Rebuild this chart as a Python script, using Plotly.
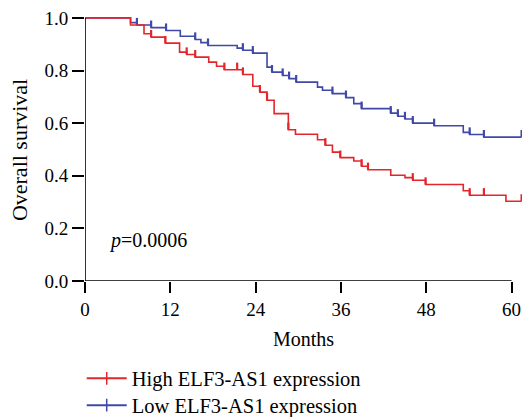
import plotly.graph_objects as go
import numpy as np

# ---- data ----
high_times = [0, 6.4, 8.3, 9.3, 11.3, 13.3, 14.3, 15.5, 17.4, 18.5, 19.6, 22.2, 23.6, 24.6,
              25.6, 26.6, 28.6, 29.6, 32.7, 33.8, 34.8, 35.9, 37.8, 38.9, 39.8, 43.0, 45.0,
              46.1, 47.9, 53.2, 54.1, 59.2, 61.4]
high_surv = [1.0, 0.973, 0.940, 0.927, 0.904, 0.870, 0.861, 0.851, 0.832, 0.816, 0.803, 0.785,
             0.740, 0.718, 0.687, 0.636, 0.575, 0.558, 0.537, 0.516, 0.490, 0.469, 0.456,
             0.436, 0.423, 0.402, 0.393, 0.383, 0.367, 0.343, 0.326, 0.303, 0.303]
high_censor = [9.3, 11.3, 14.3, 15.5, 19.6, 21.4, 22.2, 24.6, 25.6, 28.6, 33.8, 35.9, 38.9,
               39.8, 46.1, 47.9, 54.1, 56.1, 61.4]

low_times = [0, 6.4, 7.3, 9.3, 11.4, 13.4, 15.5, 16.3, 17.3, 21.4, 22.2, 23.6, 25.6, 26.3,
             27.8, 28.7, 29.7, 32.7, 33.4, 34.8, 36.7, 37.8, 38.9, 43.0, 44.0, 45.0, 46.1,
             49.1, 53.2, 54.1, 56.1, 61.4]
low_surv = [1.0, 0.982, 0.973, 0.963, 0.952, 0.930, 0.918, 0.906, 0.895, 0.885, 0.877, 0.866,
            0.813, 0.794, 0.781, 0.769, 0.756, 0.737, 0.725, 0.712, 0.697, 0.674, 0.655,
            0.638, 0.626, 0.616, 0.600, 0.590, 0.565, 0.557, 0.547, 0.547]
low_censor = [7.3, 9.3, 11.4, 15.5, 17.3, 22.2, 23.6, 26.3, 27.8, 28.7, 29.7, 34.8, 36.7,
              38.9, 43.0, 44.0, 45.0, 46.1, 49.1, 54.1, 56.1, 61.4]

x_ticks = [0, 12, 24, 36, 48, 60]
y_ticks = [0.0, 0.2, 0.4, 0.6, 0.8, 1.0]
y_tick_labels = ["0.0", "0.2", "0.4", "0.6", "0.8", "1.0"]

RED = "#e3262b"
BLUE = "#4048a8"
FONT = "Liberation Serif"


def surv_at(times, surv, t):
    idx = np.searchsorted(np.array(times), t, side="right") - 1
    return surv[max(idx, 0)]


def censor_segments(times, surv, ctimes, h=0.027):
    xs, ys = [], []
    for t in ctimes:
        s = surv_at(times, surv, t)
        xs += [t, t, None]
        ys += [s, s + h, None]
    return xs, ys


fig = go.Figure()
# low group drawn first so the high (red) curve sits on top where they overlap
for name, times, surv, cens, col, leg in [
    ("Low ELF3-AS1 expression", low_times, low_surv, low_censor, BLUE, "legend2"),
    ("High ELF3-AS1 expression", high_times, high_surv, high_censor, RED, "legend"),
]:
    fig.add_trace(go.Scatter(x=times, y=surv, mode="lines", line=dict(color=col, width=1.6, shape="hv"),
                             showlegend=False, hoverinfo="skip"))
    cx, cy = censor_segments(times, surv, cens)
    fig.add_trace(go.Scatter(x=cx, y=cy, mode="lines", line=dict(color=col, width=2.2),
                             showlegend=False, hoverinfo="skip"))
    fig.add_trace(go.Scatter(x=[None], y=[None], mode="lines+markers", name=name, legend=leg,
                             line=dict(color=col, width=2),
                             marker=dict(symbol="line-ns", size=9, line=dict(color=col, width=1.5))))

# axis lines
fig.add_shape(type="line", x0=0, x1=60, y0=0, y1=0, xref="x", yref="y", line=dict(color="black", width=1.6))
fig.add_shape(type="line", x0=0, x1=0, y0=0, y1=1.0, xref="x", yref="y", line=dict(color="black", width=1.6))

fig.add_annotation(x=3.1, y=0.155, xref="x", yref="y", xanchor="left", yanchor="middle",
                   text="<i>p</i>=0.0006", showarrow=False, font=dict(family=FONT, size=20, color="black"))
fig.add_annotation(x=0.498, y=-0.215, xref="paper", yref="paper", xanchor="center", yanchor="middle",
                   text="Months", showarrow=False, font=dict(family=FONT, size=20, color="black"))
fig.add_annotation(x=-0.149, y=0.482, xref="paper", yref="paper", xanchor="center", yanchor="middle",
                   text="Overall survival", textangle=-90, showarrow=False,
                   font=dict(family=FONT, size=22, color="black"))

fig.update_xaxes(range=[0, 61.6], tickvals=x_ticks, ticktext=[str(v) for v in x_ticks],
                 ticks="outside", ticklen=11, tickwidth=2, tickcolor="black",
                 showline=False, showgrid=False, zeroline=False, ticklabeloverflow="allow",
                 tickfont=dict(family=FONT, size=19, color="black"))
fig.update_yaxes(range=[0, 1.03], tickvals=y_ticks, ticktext=y_tick_labels,
                 ticks="outside", ticklen=12, tickwidth=2, tickcolor="black",
                 showline=False, showgrid=False, zeroline=False, ticklabeloverflow="allow",
                 tickfont=dict(family=FONT, size=19, color="black"))

legend_style = dict(xanchor="left", yanchor="top", orientation="v",
                    font=dict(family=FONT, size=20.5, color="black"), bgcolor="rgba(0,0,0,0)",
                    itemwidth=40)

# the page places the figure 8px in from the top-left corner, so margins are offset by 8px
fig.update_layout(
    width=530, height=417,
    margin=dict(l=76.5, r=14.6, t=1.6, b=144.3, autoexpand=False),
    plot_bgcolor="white", paper_bgcolor="white",
    legend=dict(x=-0.0075, y=-0.286, **legend_style),
    legend2=dict(x=-0.0075, y=-0.385, **legend_style),
    font=dict(family=FONT, color="black"),
)

fig.write_html("out.html")
